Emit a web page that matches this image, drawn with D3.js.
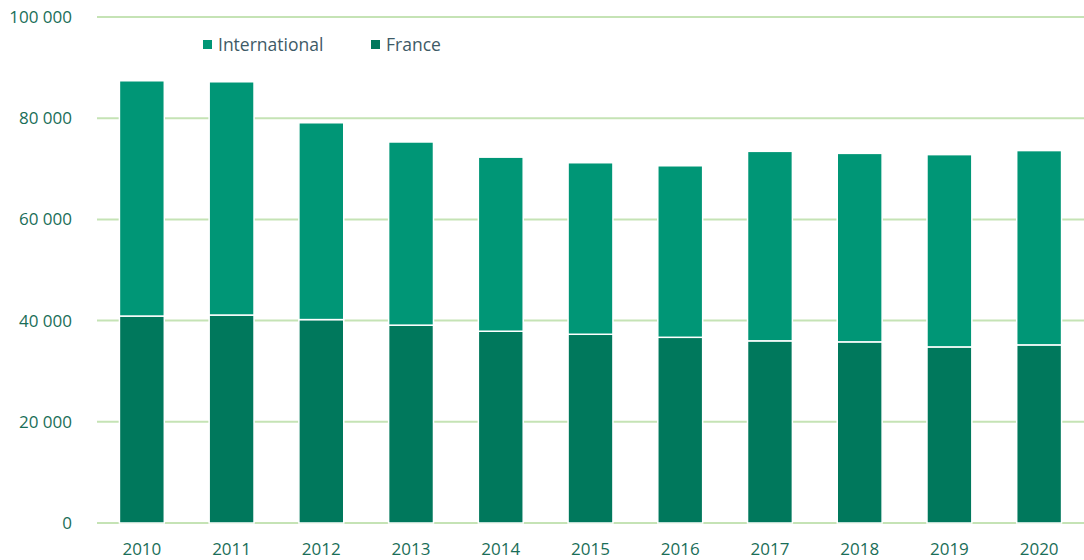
<!DOCTYPE html>
<html><head><meta charset="utf-8">
<script src="https://cdn.jsdelivr.net/npm/d3@7"></script>
<style>body{margin:0;background:#fff}svg{display:block}text{font-family:"Open Sans",Lato,sans-serif}</style>
</head><body>
<svg id="c" width="1084" height="560"></svg>
<script>
const years = ["2010","2011","2012","2013","2014","2015","2016","2017","2018","2019","2020"];
const france = [40900,41100,40200,39100,37900,37300,36700,36000,35800,34800,35200];
const total = [87400,87200,79100,75300,72300,71200,70600,73450,73050,72800,73600];
const international = total.map((t,i)=>t-france[i]);
const yTicks = [0,20000,40000,60000,80000,100000];
const seriesNames = ["International","France"];
const colors = {International:"#009676", France:"#00785C"};

const svg = d3.select("#c");
const m = {l:97, r:0, t:17, b:37};
const W = 1084, H = 560;
const x = d3.scaleBand().domain(years).range([m.l, W-m.r]).paddingInner(0.5).paddingOuter(0.25);
const y = d3.scaleLinear().domain([0,100000]).range([H-m.b, m.t]);
const fmt = v => d3.format(",")(v).replace(/,/g," ");

svg.append("g").selectAll("line").data(yTicks).join("line")
  .attr("x1", m.l).attr("x2", W).attr("y1", d=>y(d)).attr("y2", d=>y(d))
  .attr("stroke","#c5e3b5").attr("stroke-width",2);

svg.append("g").selectAll("text").data(yTicks).join("text")
  .attr("x",72).attr("y",d=>y(d)).attr("dy","0.35em").attr("text-anchor","end")
  .attr("fill","#1a6e58").attr("font-size",17).text(fmt);

const data = years.map((yr,i)=>({year:yr, France:france[i], International:international[i]}));
const stack = d3.stack().keys(["France","International"])(data);
svg.append("g").selectAll("g").data(stack).join("g").attr("fill",d=>colors[d.key])
  .selectAll("rect").data(d=>d).join("rect")
  .attr("x",d=>x(d.data.year)).attr("width",x.bandwidth())
  .attr("y",d=>y(d[1])).attr("height",d=>y(d[0])-y(d[1]))
  .attr("stroke","#ffffff").attr("stroke-width",1.5);

svg.append("g").selectAll("text").data(years).join("text")
  .attr("x",d=>x(d)+x.bandwidth()/2).attr("y",549).attr("dy","0.35em").attr("text-anchor","middle")
  .attr("fill","#1a6e58").attr("font-size",17).text(d=>d);

const lg = svg.append("g");
const lx = [203, 371];
seriesNames.forEach((n,i)=>{
  lg.append("rect").attr("x",lx[i]).attr("y",40).attr("width",9).attr("height",9).attr("fill",colors[n]);
  lg.append("text").attr("x",lx[i]+15).attr("y",45).attr("dy","0.35em").attr("fill","#3e5a66").attr("font-size",17.5).text(n);
});
</script>
</body></html>
